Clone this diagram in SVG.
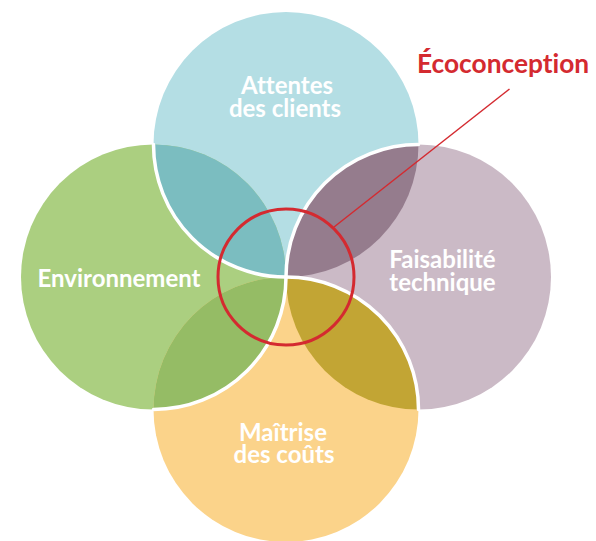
<svg xmlns="http://www.w3.org/2000/svg" width="596" height="541" viewBox="0 0 596 541">
  <style>
    .lbl { font-family: Lato, "Open Sans", "Liberation Sans", sans-serif; font-weight: 700; font-size: 24px; fill: #ffffff; text-anchor: middle; font-variant-ligatures: none; }
    .sep { fill: none; stroke: #ffffff; stroke-width: 3.5; stroke-linecap: round; }
    .title { font-family: Lato, "Open Sans", "Liberation Sans", sans-serif; font-weight: 700; font-size: 26.3px; fill: #d42a30; font-variant-ligatures: none; }
  </style>
  <defs>
    <clipPath id="clipTop"><circle cx="286" cy="144.5" r="132.5"/></clipPath>
    <clipPath id="clipBottom"><circle cx="286" cy="409.5" r="132.5"/></clipPath>
  </defs>
  <rect width="596" height="541" fill="#ffffff"/>

  <!-- base circles -->
  <g id="top"><circle cx="286" cy="144.5" r="132.5" fill="#b4dee4"/></g>
  <g id="left"><circle cx="153.5" cy="277" r="132.5" fill="#abcf80"/></g>
  <g id="right"><circle cx="418.5" cy="277" r="132.5" fill="#cbbac6"/></g>
  <g id="bottom"><circle cx="286" cy="409.5" r="132.5" fill="#fbd38a"/></g>

  <!-- pairwise overlaps -->
  <g id="overlaps">
    <circle cx="153.5" cy="277" r="132.5" fill="#7bbdc0" clip-path="url(#clipTop)"/>
    <circle cx="418.5" cy="277" r="132.5" fill="#957c8d" clip-path="url(#clipTop)"/>
    <circle cx="153.5" cy="277" r="132.5" fill="#95bc65" clip-path="url(#clipBottom)"/>
    <circle cx="418.5" cy="277" r="132.5" fill="#c2a534" clip-path="url(#clipBottom)"/>
  </g>

  <!-- white separating arcs, each circle passing over its neighbour -->
  <g id="separators">
    <path class="sep" d="M153.5 144.5 A132.5 132.5 0 0 0 286 277"/>
    <path class="sep" d="M286 277 A132.5 132.5 0 0 1 418.5 144.5"/>
    <path class="sep" d="M286 277 A132.5 132.5 0 0 1 418.5 409.5"/>
    <path class="sep" d="M286 277 A132.5 132.5 0 0 1 153.5 409.5"/>
  </g>

  <!-- labels -->
  <g id="labels">
    <text class="lbl"><tspan x="287" y="94">Attentes</tspan><tspan x="285" y="117">des clients</tspan></text>
    <text class="lbl" x="119" y="287">Environnement</text>
    <text class="lbl"><tspan x="442.5" y="268">Faisabilité</tspan><tspan x="442.5" y="291">technique</tspan></text>
    <text class="lbl"><tspan x="283" y="441">Maîtrise</tspan><tspan x="284" y="463">des coûts</tspan></text>
  </g>

  <!-- highlighted centre and its callout -->
  <g id="connectors">
    <line x1="334" y1="227" x2="509.5" y2="89" stroke="#d42a30" stroke-width="1.5"/>
  </g>
  <g id="ecoconception">
    <circle cx="286" cy="277" r="68" fill="none" stroke="#d42a30" stroke-width="3"/>
    <text class="title" x="417" y="73">Écoconception</text>
  </g>
</svg>
